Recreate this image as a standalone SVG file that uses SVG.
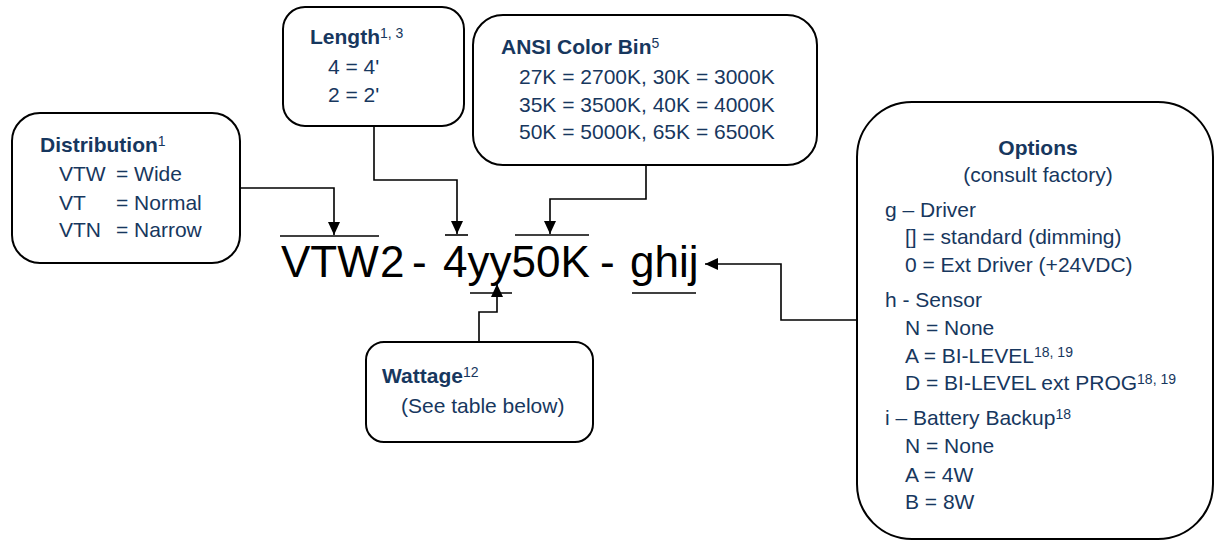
<svg xmlns="http://www.w3.org/2000/svg" width="1215" height="542" viewBox="0 0 1215 542">
<style>
.box{fill:#fff;stroke:#000;stroke-width:2}
.t{font-family:"Liberation Sans",Arial,sans-serif;font-size:21px;fill:#17375E}
.b{font-weight:bold}
.sup{font-size:14px;font-weight:normal}
.big{font-family:"Liberation Sans",Arial,sans-serif;font-size:44px;fill:#000}
.ln{fill:none;stroke:#000;stroke-width:1.6}
.bar{stroke:#000;stroke-width:1.6}
</style>
<defs>
<marker id="ah" viewBox="0 0 13 12" refX="13" refY="6" markerWidth="13" markerHeight="12" markerUnits="userSpaceOnUse" orient="auto">
<path d="M0,0 L13,6 L0,12 z" fill="#000"/>
</marker>
</defs>
<rect width="1215" height="542" fill="#fff"/>

<g id="connectors">
<polyline class="ln" points="240,188 334,188 334,235" marker-end="url(#ah)"/>
<polyline class="ln" points="374,126 374,180 457,180 457,234" marker-end="url(#ah)"/>
<polyline class="ln" points="646,165 646,199 550,199 550,234" marker-end="url(#ah)"/>
<polyline class="ln" points="479,342 479,312 497,312 497,284" marker-end="url(#ah)"/>
<polyline class="ln" points="857,320 781,320 781,264 705,264" marker-end="url(#ah)"/>
</g>

<g id="code">
<text class="big" x="281" y="277">VTW</text>
<text class="big" x="380" y="277">2</text>
<text class="big" x="412" y="277">-</text>
<text class="big" x="443" y="277">4yy50K</text>
<text class="big" x="600" y="277">-</text>
<text class="big" x="630" y="277">ghij</text>
<line class="bar" x1="280" y1="236" x2="379" y2="236"/>
<line class="bar" x1="445" y1="235" x2="468" y2="235"/>
<line class="bar" x1="515" y1="235" x2="589" y2="235"/>
<line class="bar" x1="470" y1="293" x2="512" y2="293"/>
<line class="bar" x1="632" y1="293" x2="696" y2="293"/>
</g>

<g id="distribution">
<rect class="box" x="12" y="113" width="228" height="150" rx="28"/>
<text class="t b" x="40" y="152">Distribution<tspan class="sup" dy="-6">1</tspan></text>
<text class="t" x="59" y="181">VTW</text><text class="t" x="116" y="181">= Wide</text>
<text class="t" x="59" y="210">VT</text><text class="t" x="116" y="210">= Normal</text>
<text class="t" x="59" y="237">VTN</text><text class="t" x="116" y="237">= Narrow</text>
</g>

<g id="length">
<rect class="box" x="283" y="7" width="181" height="119" rx="22"/>
<text class="t b" x="310" y="44">Length<tspan class="sup" dy="-6">1, 3</tspan></text>
<text class="t" x="328" y="74">4 = 4'</text>
<text class="t" x="328" y="102">2 = 2'</text>
</g>

<g id="ansi">
<rect class="box" x="473" y="15" width="344" height="150" rx="30"/>
<text class="t b" x="501" y="54">ANSI Color Bin<tspan class="sup" dy="-6">5</tspan></text>
<text class="t" x="519" y="84">27K = 2700K, 30K = 3000K</text>
<text class="t" x="519" y="112">35K = 3500K, 40K = 4000K</text>
<text class="t" x="519" y="139">50K = 5000K, 65K = 6500K</text>
</g>

<g id="wattage">
<rect class="box" x="366" y="342" width="227" height="100" rx="18"/>
<text class="t b" x="382" y="383">Wattage<tspan class="sup" dy="-6">12</tspan></text>
<text class="t" x="401" y="413">(See table below)</text>
</g>

<g id="options">
<rect class="box" x="857" y="102" width="356" height="437" rx="55"/>
<text class="t b" x="1038" y="155" text-anchor="middle">Options</text>
<text class="t" x="1038" y="182" text-anchor="middle">(consult factory)</text>
<text class="t" x="885" y="217">g – Driver</text>
<text class="t" x="905" y="244">[] = standard (dimming)</text>
<text class="t" x="905" y="272">0 = Ext Driver (+24VDC)</text>
<text class="t" x="885" y="307">h - Sensor</text>
<text class="t" x="905" y="335">N = None</text>
<text class="t" x="905" y="363">A = BI-LEVEL<tspan class="sup" dy="-6">18, 19</tspan></text>
<text class="t" x="905" y="390">D = BI-LEVEL ext PROG<tspan class="sup" dy="-6">18, 19</tspan></text>
<text class="t" x="885" y="425">i – Battery Backup<tspan class="sup" dy="-6">18</tspan></text>
<text class="t" x="905" y="453">N = None</text>
<text class="t" x="905" y="482">A = 4W</text>
<text class="t" x="905" y="509">B = 8W</text>
</g>
</svg>
